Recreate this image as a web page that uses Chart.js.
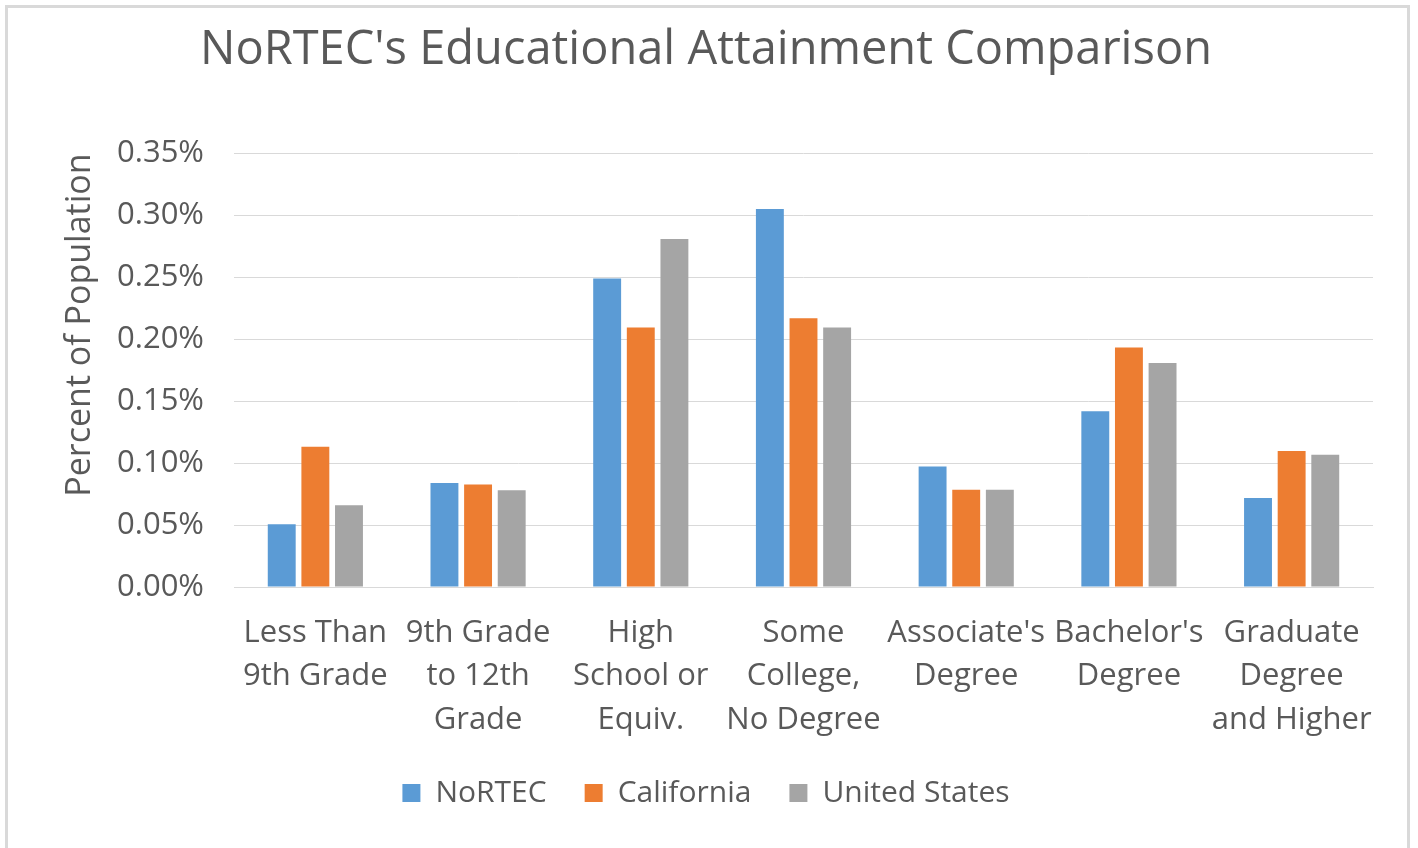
<!DOCTYPE html>
<html>
<head>
<meta charset="utf-8">
<script src="https://cdn.jsdelivr.net/npm/chart.js@4"></script>
<style>
  html, body { margin: 0; padding: 0; background: #fff; }
  #frame {
    position: absolute; left: 5px; top: 5px; width: 1405px; height: 860px;
    border: 3px solid #d9d9d9; box-sizing: border-box;
  }
  #wrap { position: absolute; left: 0; top: 0; width: 1418px; height: 848px; }
</style>
</head>
<body>
<div id="frame"></div>
<div id="wrap"><canvas id="chart"></canvas></div>
<script>
// Categories (multi-line labels as in the reference)
const categories = [
  ["Less Than", "9th Grade"],
  ["9th Grade", "to 12th", "Grade"],
  ["High", "School or", "Equiv."],
  ["Some", "College,", "No Degree"],
  ["Associate's", "Degree"],
  ["Bachelor's", "Degree"],
  ["Graduate", "Degree", "and Higher"],
];

// Values in percent (0.25 means 0.25%)
const nortec     = [0.0506, 0.0840, 0.2490, 0.3051, 0.0973, 0.1419, 0.0719];
const california = [0.1132, 0.0827, 0.2095, 0.2170, 0.0784, 0.1933, 0.1097];
const unitedStates = [0.0660, 0.0781, 0.2810, 0.2095, 0.0784, 0.1808, 0.1067];

const yTicks = [0, 0.05, 0.10, 0.15, 0.20, 0.25, 0.30, 0.35];

const textColor = "#595959";
const fontFamily = "'Open Sans', 'Noto Sans', sans-serif";

Chart.defaults.font.family = fontFamily;
Chart.defaults.color = textColor;

const ctx = document.getElementById("chart");
new Chart(ctx, {
  type: "bar",
  data: {
    labels: categories,
    datasets: [
      { label: "NoRTEC", data: nortec, backgroundColor: "#5b9bd5" },
      { label: "California", data: california, backgroundColor: "#ed7d31" },
      { label: "United States", data: unitedStates, backgroundColor: "#a5a5a5" },
    ],
  },
  options: {
    responsive: true,
    maintainAspectRatio: false,
    animation: false,
    layout: { padding: { left: 39, right: 45, top: 0, bottom: 30 } },
    datasets: {
      bar: { categoryPercentage: 0.62, barPercentage: 0.83 },
    },
    plugins: {
      title: {
        display: true,
        text: "NoRTEC's Educational Attainment Comparison",
        color: textColor,
        font: { size: 47, weight: "normal" },
        padding: { top: 22, bottom: 75 },
      },
      legend: {
        display: true,
        position: "bottom",
        labels: {
          boxWidth: 18,
          boxHeight: 18,
          padding: 38,
          color: textColor,
          font: { size: 30 },
        },
      },
      tooltip: { enabled: false },
    },
    scales: {
      x: {
        grid: { display: false, drawTicks: false },
        border: { display: true, color: "#d9d9d9" },
        ticks: {
          color: textColor,
          font: { size: 31, lineHeight: 1.39 },
          padding: 25,
          maxRotation: 0,
          autoSkip: false,
        },
        afterFit(scale) { scale.height = 153; },
      },
      y: {
        min: 0,
        max: 0.35,
        afterBuildTicks(scale) {
          scale.ticks = yTicks.map(v => ({ value: v }));
        },
        grid: { color: "#d9d9d9", drawTicks: false },
        border: { display: false },
        ticks: {
          color: textColor,
          font: { size: 31 },
          padding: 30,
          callback: v => v.toFixed(2) + "%",
        },
        title: {
          display: true,
          text: "Percent of Population",
          align: "end",
          color: textColor,
          font: { size: 34 },
          padding: { top: 21, bottom: 0 },
        },
        afterFit(scale) { scale.width = 195; },
      },
    },
  },
});
</script>
</body>
</html>
